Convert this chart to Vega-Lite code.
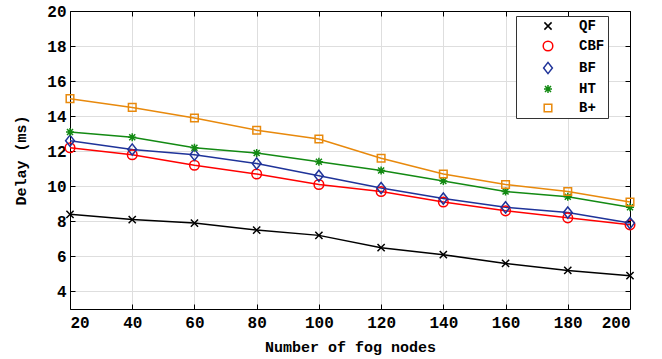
{
  "$schema": "https://vega.github.io/schema/vega-lite/v6.json",
  "autosize": "none",
  "width": 560,
  "height": 298,
  "padding": {"left": 70, "top": 11, "right": 32, "bottom": 50},
  "background": "white",
  "config": {
    "view": {"stroke": null},
    "font": "Liberation Mono",
    "axis": {
      "labelFont": "Liberation Mono",
      "labelFontWeight": "bold",
      "labelFontSize": 16,
      "labelColor": "black",
      "titleFont": "Liberation Mono",
      "titleFontWeight": "bold",
      "titleFontSize": 15,
      "titleColor": "black",
      "domainColor": "black",
      "domainWidth": 1,
      "tickColor": "black",
      "tickSize": -5,
      "gridColor": "#dedede",
      "gridWidth": 1
    }
  },
  "data": {
    "values": [
      {"series": "QF", "nodes": 20, "delay": 8.4},
      {"series": "QF", "nodes": 40, "delay": 8.1},
      {"series": "QF", "nodes": 60, "delay": 7.9},
      {"series": "QF", "nodes": 80, "delay": 7.5},
      {"series": "QF", "nodes": 100, "delay": 7.2},
      {"series": "QF", "nodes": 120, "delay": 6.5},
      {"series": "QF", "nodes": 140, "delay": 6.1},
      {"series": "QF", "nodes": 160, "delay": 5.6},
      {"series": "QF", "nodes": 180, "delay": 5.2},
      {"series": "QF", "nodes": 200, "delay": 4.9},
      {"series": "CBF", "nodes": 20, "delay": 12.2},
      {"series": "CBF", "nodes": 40, "delay": 11.8},
      {"series": "CBF", "nodes": 60, "delay": 11.2},
      {"series": "CBF", "nodes": 80, "delay": 10.7},
      {"series": "CBF", "nodes": 100, "delay": 10.1},
      {"series": "CBF", "nodes": 120, "delay": 9.7},
      {"series": "CBF", "nodes": 140, "delay": 9.1},
      {"series": "CBF", "nodes": 160, "delay": 8.6},
      {"series": "CBF", "nodes": 180, "delay": 8.2},
      {"series": "CBF", "nodes": 200, "delay": 7.8},
      {"series": "BF", "nodes": 20, "delay": 12.6},
      {"series": "BF", "nodes": 40, "delay": 12.1},
      {"series": "BF", "nodes": 60, "delay": 11.8},
      {"series": "BF", "nodes": 80, "delay": 11.3},
      {"series": "BF", "nodes": 100, "delay": 10.6},
      {"series": "BF", "nodes": 120, "delay": 9.9},
      {"series": "BF", "nodes": 140, "delay": 9.3},
      {"series": "BF", "nodes": 160, "delay": 8.8},
      {"series": "BF", "nodes": 180, "delay": 8.5},
      {"series": "BF", "nodes": 200, "delay": 7.9},
      {"series": "HT", "nodes": 20, "delay": 13.1},
      {"series": "HT", "nodes": 40, "delay": 12.8},
      {"series": "HT", "nodes": 60, "delay": 12.2},
      {"series": "HT", "nodes": 80, "delay": 11.9},
      {"series": "HT", "nodes": 100, "delay": 11.4},
      {"series": "HT", "nodes": 120, "delay": 10.9},
      {"series": "HT", "nodes": 140, "delay": 10.3},
      {"series": "HT", "nodes": 160, "delay": 9.7},
      {"series": "HT", "nodes": 180, "delay": 9.4},
      {"series": "HT", "nodes": 200, "delay": 8.8},
      {"series": "B+", "nodes": 20, "delay": 15.0},
      {"series": "B+", "nodes": 40, "delay": 14.5},
      {"series": "B+", "nodes": 60, "delay": 13.9},
      {"series": "B+", "nodes": 80, "delay": 13.2},
      {"series": "B+", "nodes": 100, "delay": 12.7},
      {"series": "B+", "nodes": 120, "delay": 11.6},
      {"series": "B+", "nodes": 140, "delay": 10.7},
      {"series": "B+", "nodes": 160, "delay": 10.1},
      {"series": "B+", "nodes": 180, "delay": 9.7},
      {"series": "B+", "nodes": 200, "delay": 9.1}
    ]
  },
  "layer": [
    {
      "encoding": {
        "x": {
          "field": "nodes", "type": "quantitative",
          "scale": {"domain": [20, 200], "nice": false, "zero": false},
          "axis": {"values": [20, 40, 60, 80, 100, 120, 140, 160, 180, 200], "title": "Number of fog nodes", "labelPadding": 10, "titlePadding": 9}
        },
        "y": {
          "field": "delay", "type": "quantitative",
          "scale": {"domain": [3, 20], "nice": false, "zero": false},
          "axis": {"values": [4, 6, 8, 10, 12, 14, 16, 18, 20], "title": "Delay (ms)", "labelPadding": 9, "titlePadding": 18}
        },
        "color": {
          "field": "series", "type": "nominal",
          "scale": {"domain": ["QF", "CBF", "BF", "HT", "B+"], "range": ["#000000", "#ff0000", "#1f3399", "#138a13", "#e8890c"]},
          "legend": {
            "title": null,
            "orient": "none",
            "legendX": 446,
            "legendY": 5,
            "fillColor": "white",
            "strokeColor": "#333333",
            "padding": 3,
            "symbolSize": 64,
            "symbolStrokeWidth": 1.5,
            "symbolOffset": 22,
            "labelOffset": 24,
            "labelAlign": "left",
            "labelFont": "Liberation Mono",
            "labelFontWeight": "bold",
            "labelFontSize": 14,
            "labelColor": "black",
            "rowPadding": 5
          }
        }
      },
      "layer": [
        {
          "mark": {"type": "line", "strokeWidth": 1.5}
        },
        {
          "mark": {"type": "point", "filled": false, "size": 64, "strokeWidth": 1.5, "opacity": 1},
          "encoding": {
            "shape": {
              "field": "series", "type": "nominal",
              "scale": {"domain": ["QF", "CBF", "BF", "HT", "B+"], "range": [
                "M-0.9,-0.9L0.9,0.9M-0.9,0.9L0.9,-0.9",
                "M-1.2,0A1.2,1.2 0 1,0 1.2,0A1.2,1.2 0 1,0 -1.2,0",
                "M0,-1.4L1.1,0L0,1.4L-1.1,0Z",
                "M-1,0H1M0,-1V1M-0.75,-0.75L0.75,0.75M-0.75,0.75L0.75,-0.75",
                "M-0.95,-0.95H0.95V0.95H-0.95Z"
              ]}
            }
          }
        }
      ]
    },
    {
      "mark": {"type": "line", "opacity": 0},
      "encoding": {
        "x": {
          "field": "nodes", "type": "quantitative",
          "axis": {"orient": "top", "values": [20, 40, 60, 80, 100, 120, 140, 160, 180, 200], "labels": false, "title": null, "grid": false}
        },
        "y": {
          "field": "delay", "type": "quantitative",
          "axis": {"orient": "right", "values": [4, 6, 8, 10, 12, 14, 16, 18, 20], "labels": false, "title": null, "grid": false}
        },
        "detail": {"field": "series"}
      }
    }
  ],
  "resolve": {"axis": {"x": "independent", "y": "independent"}}
}
